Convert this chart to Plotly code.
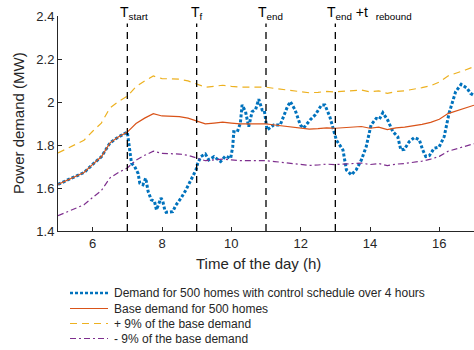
import plotly.graph_objects as go

# ---------------- data ----------------
t_base = [5.00, 5.25, 5.50, 5.75, 6.00, 6.25, 6.50, 6.75, 7.00, 7.25, 7.50, 7.75,
          8.00, 8.25, 8.50, 8.75, 9.00, 9.25, 9.50, 9.75, 10.00, 10.25, 10.50, 10.75,
          11.00, 11.25, 11.50, 11.75, 12.00, 12.25, 12.50, 12.75, 13.00, 13.25, 13.50,
          13.75, 14.00, 14.25, 14.50, 14.75, 15.00, 15.25, 15.50, 15.75, 16.00, 16.25,
          16.50, 16.75, 17.00]
base = [1.617, 1.635, 1.655, 1.672, 1.710, 1.745, 1.810, 1.838, 1.860, 1.900, 1.925, 1.946,
        1.935, 1.935, 1.932, 1.925, 1.913, 1.898, 1.902, 1.906, 1.902, 1.898, 1.898, 1.898,
        1.898, 1.893, 1.888, 1.885, 1.880, 1.874, 1.876, 1.880, 1.878, 1.880, 1.884,
        1.886, 1.878, 1.883, 1.872, 1.880, 1.883, 1.888, 1.896, 1.905, 1.920, 1.946,
        1.958, 1.972, 1.985]
upper = [1.763, 1.782, 1.804, 1.822, 1.864, 1.902, 1.973, 2.003, 2.027, 2.071, 2.098, 2.121,
         2.109, 2.109, 2.106, 2.098, 2.085, 2.069, 2.073, 2.078, 2.073, 2.069, 2.069, 2.069,
         2.069, 2.063, 2.058, 2.055, 2.049, 2.043, 2.045, 2.049, 2.047, 2.049, 2.054,
         2.056, 2.047, 2.052, 2.040, 2.049, 2.052, 2.058, 2.067, 2.076, 2.093, 2.121,
         2.134, 2.149, 2.164]
lower = [1.471, 1.488, 1.506, 1.522, 1.556, 1.588, 1.647, 1.673, 1.693, 1.729, 1.752, 1.771,
         1.761, 1.761, 1.758, 1.752, 1.741, 1.727, 1.731, 1.734, 1.731, 1.727, 1.727, 1.727,
         1.727, 1.723, 1.718, 1.715, 1.711, 1.705, 1.707, 1.711, 1.709, 1.711, 1.714,
         1.716, 1.709, 1.714, 1.704, 1.711, 1.714, 1.718, 1.725, 1.734, 1.747, 1.771,
         1.782, 1.795, 1.806]

t_ctrl = [5.00, 5.25, 5.50, 5.75, 6.00, 6.25, 6.50, 6.75, 7.00, 7.05, 7.12, 7.21, 7.31,
          7.36, 7.45, 7.53, 7.60, 7.69, 7.78, 7.84, 7.97, 8.02, 8.08, 8.12, 8.21, 8.31,
          8.40, 8.55, 8.69, 8.84, 8.98, 9.03, 9.12, 9.25, 9.35, 9.50, 9.60, 9.69, 9.83,
          9.98, 10.04, 10.07, 10.17, 10.26, 10.31, 10.41, 10.50, 10.60, 10.70, 10.79,
          10.89, 10.95, 11.03, 11.22, 11.41, 11.60, 11.70, 11.84, 11.99, 12.08, 12.27,
          12.42, 12.60, 12.70, 12.84, 12.94, 13.03, 13.22, 13.32, 13.46, 13.60, 13.75,
          13.89, 14.03, 14.18, 14.27, 14.37, 14.51, 14.66, 14.80, 14.89, 14.99, 15.13,
          15.28, 15.42, 15.52, 15.61, 15.71, 15.85, 15.99, 16.14, 16.28, 16.47, 16.63,
          16.80, 16.90, 17.00]
ctrl = [1.617, 1.635, 1.655, 1.672, 1.710, 1.745, 1.810, 1.838, 1.860, 1.790, 1.715, 1.700, 1.668,
        1.622, 1.615, 1.646, 1.584, 1.545, 1.540, 1.498, 1.553, 1.540, 1.498, 1.487, 1.490, 1.490,
        1.520, 1.553, 1.591, 1.638, 1.684, 1.715, 1.746, 1.758, 1.731, 1.746, 1.735, 1.723, 1.749,
        1.738, 1.792, 1.862, 1.860, 1.901, 1.986, 1.955, 1.885, 1.955, 1.965, 2.013,
        1.963, 1.963, 1.870, 1.893, 1.893, 1.971, 2.002, 1.963, 1.893, 1.878, 1.916,
        1.940, 1.986, 1.986, 1.932, 1.870, 1.823, 1.777, 1.684, 1.661, 1.684, 1.730,
        1.792, 1.893, 1.924, 1.920, 1.950, 1.916, 1.862, 1.839, 1.777, 1.780, 1.815,
        1.835, 1.825, 1.777, 1.746, 1.750, 1.785, 1.790, 1.839, 1.947, 2.048, 2.082,
        2.064, 2.040, 2.030]

event_times = [7, 9, 11, 13]
event_labels = ["T<sub>start</sub>", "T<sub>f</sub>", "T<sub>end</sub>",
                "T<sub>end</sub> +t&nbsp;&nbsp;<sub>rebound</sub>"]
x_ticks = [6, 8, 10, 12, 14, 16]
y_ticks = [1.4, 1.6, 1.8, 2.0, 2.2, 2.4]
y_tick_text = ["1.4", "1.6", "1.8", "2", "2.2", "2.4"]

names = ["Demand for 500 homes with control schedule over 4 hours",
         "Base demand for 500 homes",
         "+ 9% of the base demand",
         "- 9% of the base demand"]

TXT = "#262626"
FONT = "Liberation Sans, Arial, sans-serif"
colors = ["#0072BD", "#D95319", "#EDB120", "#7E2F8E"]
widths = [3, 1.2, 1.2, 1.2]
dashes = ["3px,2px", "solid", "7px,5px", "6px,3px,2px,3px"]

# plot-area geometry (px) used for the paper-coordinate legend
L, R, T, B = 58, 0, 16, 119
PW, PH = 474 - L - R, 350 - T - B

def px2paper(px, py):
    return (px - L) / PW, (350 - B - py) / PH

fig = go.Figure()

series = [(t_ctrl, ctrl), (t_base, base), (t_base, upper), (t_base, lower)]
for (xs, ys), nm, c, w, d in zip(series, names, colors, widths, dashes):
    fig.add_trace(go.Scatter(x=xs, y=ys, mode="lines", name=nm,
                             line=dict(color=c, width=w, dash=d), showlegend=False))

# vertical event lines
for et in event_times:
    fig.add_shape(type="line", xref="x", yref="y", x0=et, x1=et, y0=1.4, y1=2.365,
                  line=dict(color="black", width=1.3, dash="7px,5px"), layer="above")

shifts = [-9, -8, -10, -10]
for et, lab, sh in zip(event_times, event_labels, shifts):
    fig.add_annotation(x=et, xref="x", y=1, yref="paper", text=lab, showarrow=False,
                       xanchor="left", yanchor="middle", xshift=sh, yshift=3,
                       font=dict(family=FONT, size=14, color="black"))

# axis titles
fx, fy = px2paper(258, 263)
fig.add_annotation(x=fx, xref="paper", y=fy, yref="paper", text="Time of the day (h)",
                   showarrow=False, xanchor="center", yanchor="middle",
                   font=dict(family=FONT, size=15, color=TXT))
fx, fy = px2paper(19, 123)
fig.add_annotation(x=fx, xref="paper", y=fy, yref="paper", text="Power demand (MW)",
                   showarrow=False, xanchor="center", yanchor="middle", textangle=-90,
                   font=dict(family=FONT, size=15, color=TXT))

# legend (drawn manually for exact spacing)
rows_py = [293, 308.5, 323.5, 338.5]
for nm, c, w, d, py in zip(names, colors, widths, dashes, rows_py):
    x0, yy = px2paper(70, py)
    x1, _ = px2paper(108, py)
    fig.add_shape(type="line", xref="paper", yref="paper", x0=x0, x1=x1, y0=yy, y1=yy,
                  line=dict(color=c, width=w if w < 2 else 2.5, dash=d))
    tx, _ = px2paper(112, py)
    fig.add_annotation(x=tx, xref="paper", y=yy, yref="paper", text=nm, showarrow=False,
                       xanchor="left", yanchor="middle",
                       font=dict(family=FONT, size=12, color=TXT))

fig.update_layout(
    width=474, height=350,
    margin=dict(l=L, r=R, t=T, b=B, autoexpand=False),
    paper_bgcolor="white", plot_bgcolor="white",
    font=dict(family=FONT, size=13, color=TXT),
    xaxis=dict(range=[5, 17], tickvals=x_ticks, ticks="inside", ticklen=4,
               tickcolor=TXT, showline=True, linecolor=TXT, linewidth=1,
               showgrid=False, zeroline=False, tickfont=dict(size=13),
               automargin=False),
    yaxis=dict(range=[1.4, 2.4], tickvals=y_ticks, ticktext=y_tick_text,
               ticks="inside", ticklen=4, tickcolor=TXT, showline=True,
               linecolor=TXT, linewidth=1, showgrid=False, zeroline=False,
               tickfont=dict(size=13), automargin=False),
    showlegend=False,
)

fig.write_html("out.html", config={"displayModeBar": False},
               post_script="document.body.style.margin='0';document.body.style.overflow='hidden';")
